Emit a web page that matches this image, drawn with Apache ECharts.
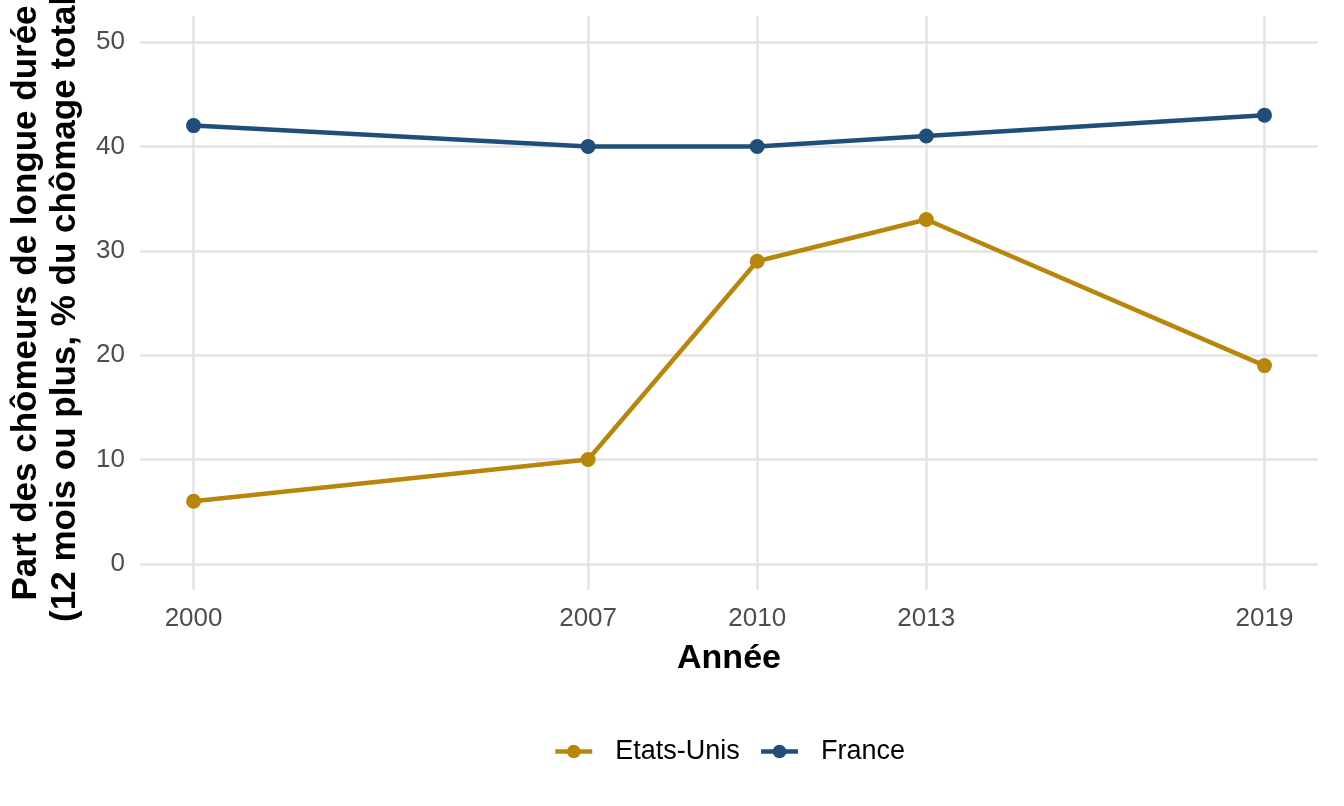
<!DOCTYPE html>
<html>
<head>
<meta charset="utf-8">
<title>Chômage de longue durée</title>
<script src="https://cdn.jsdelivr.net/npm/echarts@6/dist/echarts.min.js"></script>
<style>
  html, body { margin: 0; padding: 0; background: #fff; }
  #chart { width: 1344px; height: 806px; }
</style>
</head>
<body>
<div id="chart"></div>
<script>
// données
const years = [2000, 2007, 2010, 2013, 2019];
const usValues = [6, 10, 29, 33, 19];
const franceValues = [42, 40, 40, 41, 43];
const yTicks = [0, 10, 20, 30, 40, 50];

const font = 'Liberation Sans, Arial, sans-serif';
const gridColor = '#E3E3E3';

const toPoints = vals => years.map((y, i) => [y, vals[i]]);

const chart = echarts.init(document.getElementById('chart'));

const option = {
    animation: false,
    backgroundColor: '#fff',
    grid: { left: 140, right: 26, top: 16, bottom: 216, containLabel: false, outerBoundsMode: 'none' },
    legend: {
        left: 548,
        top: 733,
        itemWidth: 37,
        itemHeight: 17,
        itemGap: 19,
        lineStyle: { width: 4.5 },
        textStyle: { fontFamily: font, fontSize: 27, color: '#000', padding: [0, 0, 0, 18] },
        data: ['Etats-Unis', 'France']
    },
    xAxis: {
        type: 'value',
        min: 1999.05,
        max: 2019.95,
        name: 'Année',
        nameLocation: 'middle',
        nameGap: 52,
        nameTextStyle: { fontFamily: font, fontSize: 34, fontWeight: 'bold', color: '#000' },
        axisLine: { show: false },
        axisTick: { show: false, customValues: years },
        axisLabel: {
            customValues: years,
            formatter: v => String(v),
            margin: 16,
            fontFamily: font,
            fontSize: 26,
            color: '#4D4D4D'
        },
        splitLine: { show: true, lineStyle: { color: gridColor, width: 2.5 } }
    },
    yAxis: {
        type: 'value',
        min: -2.5,
        max: 52.5,
        name: 'Part des chômeurs de longue durée\n(12 mois ou plus, % du chômage total)',
        nameLocation: 'middle',
        nameRotate: 90,
        nameGap: 50,
        nameTextStyle: { fontFamily: font, fontSize: 35, fontWeight: 'bold', color: '#000', lineHeight: 39 },
        axisLine: { show: false },
        axisTick: { show: false, customValues: yTicks },
        axisLabel: {
            customValues: yTicks,
            margin: 15,
            fontFamily: font,
            fontSize: 26,
            color: '#4D4D4D'
        },
        splitLine: { show: true, lineStyle: { color: gridColor, width: 2.5 } }
    },
    series: [
        {
            name: 'Etats-Unis',
            type: 'line',
            data: toPoints(usValues),
            color: '#B8860B',
            symbol: 'circle',
            symbolSize: 15,
            lineStyle: { width: 4.5 }
        },
        {
            name: 'France',
            type: 'line',
            data: toPoints(franceValues),
            color: '#1F4E79',
            symbol: 'circle',
            symbolSize: 15,
            lineStyle: { width: 4.5 }
        }
    ]
};

chart.setOption(option);
</script>
</body>
</html>
